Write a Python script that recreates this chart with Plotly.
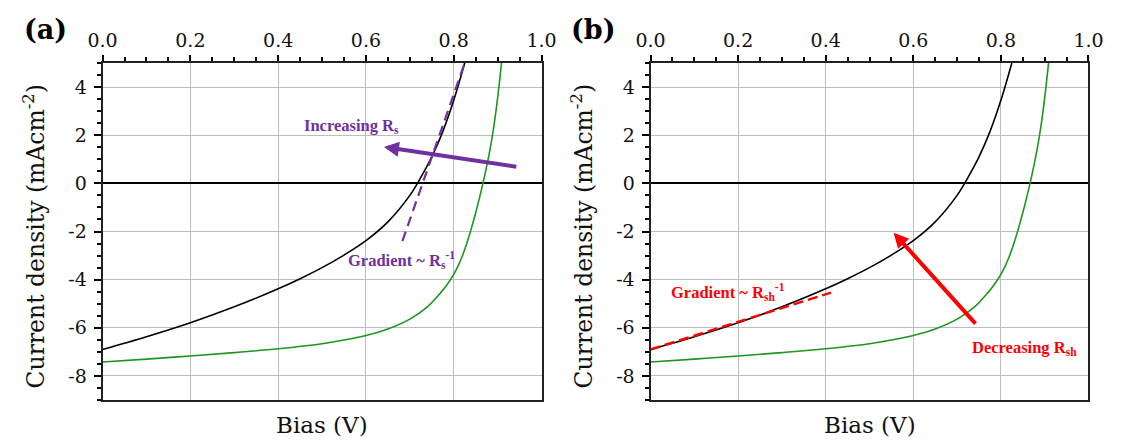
import plotly.graph_objects as go

# ---------------- data ----------------
bias_black = [0.0, 0.1, 0.2, 0.3, 0.4, 0.45, 0.5, 0.55, 0.6, 0.65, 0.7, 0.725, 0.75, 0.775, 0.8, 0.825]
j_black = [-6.9, -6.37, -5.79, -5.13, -4.38, -3.96, -3.5, -2.98, -2.38, -1.6, -0.5, 0.25, 1.1, 2.15, 3.45, 5.0]

bias_green = [0.0, 0.1, 0.2, 0.3, 0.4, 0.5, 0.55, 0.6, 0.65, 0.7, 0.74, 0.77, 0.785, 0.8, 0.81,
              0.82, 0.83, 0.84, 0.85, 0.86, 0.87, 0.88, 0.89, 0.9, 0.91]
j_green = [-7.42, -7.3, -7.17, -7.03, -6.87, -6.66, -6.51, -6.32, -6.05, -5.64, -5.13, -4.55, -4.2, -3.78, -3.43,
           -3.0, -2.48, -1.88, -1.22, -0.5, 0.28, 1.15, 2.2, 3.55, 5.2]

x_tick_vals = [0.0, 0.2, 0.4, 0.6, 0.8, 1.0]
x_tick_text = ["0.0", "0.2", "0.4", "0.6", "0.8", "1.0"]
y_tick_vals = [-8, -6, -4, -2, 0, 2, 4]
y_tick_text = ["-8", "-6", "-4", "-2", "0", "2", "4"]

# panel (a) annotation geometry (data units)
rs_tangent_v = [0.683, 0.825]
rs_tangent_j = [-2.40, 5.0]
rs_arrow_tail = (0.946, 0.68)
rs_arrow_head = (0.641, 1.51)
rs_label_pos = (0.567, 2.38)
rs_grad_label_pos = (0.682, -3.2)

# panel (b) annotation geometry (data units)
rsh_tangent_v = [0.0, 0.412]
rsh_tangent_j = [-6.9, -4.54]
rsh_arrow_tail = (0.745, -5.89)
rsh_arrow_head = (0.555, -2.05)
rsh_label_pos = (0.853, -6.83)
rsh_grad_label_pos = (0.178, -4.5)

# ---------------- style ----------------
W, H = 1121, 441
PURPLE = "#7030a0"
RED = "#ff0000"
GREEN = "#1e951e"
AXFONT = "DejaVu Serif"
ANFONT = "Liberation Serif"

a_dom = [90 / W, 541 / W]
b_dom = [653 / W, 1103 / W]
y_dom = [1 - 400 / H, 1 - 63 / H]

fig = go.Figure()

for xa, ya in (("x", "y"), ("x2", "y2")):
    fig.add_trace(go.Scatter(x=bias_black, y=j_black, mode="lines", xaxis=xa, yaxis=ya,
                             line=dict(color="black", width=1.6, shape="spline", smoothing=1.0),
                             showlegend=False, hoverinfo="skip"))
    fig.add_trace(go.Scatter(x=bias_green, y=j_green, mode="lines", xaxis=xa, yaxis=ya,
                             line=dict(color=GREEN, width=1.6, shape="spline", smoothing=1.0),
                             showlegend=False, hoverinfo="skip"))

fig.add_trace(go.Scatter(x=rs_tangent_v, y=rs_tangent_j, mode="lines", xaxis="x", yaxis="y",
                         line=dict(color=PURPLE, width=2.2, dash="10px,6px"),
                         showlegend=False, hoverinfo="skip"))
fig.add_trace(go.Scatter(x=rsh_tangent_v, y=rsh_tangent_j, mode="lines", xaxis="x2", yaxis="y2",
                         line=dict(color=RED, width=2.5, dash="10px,5px"),
                         showlegend=False, hoverinfo="skip"))

xaxis_common = dict(
    range=[0, 1], side="top", tickmode="array", tickvals=x_tick_vals, ticktext=x_tick_text,
    ticks="outside", ticklen=6, tickwidth=1.5, tickcolor="black",
    minor=dict(tickmode="linear", tick0=0, dtick=0.05, ticks="outside", ticklen=4,
               tickwidth=1.5, tickcolor="black", showgrid=False),
    showgrid=True, gridcolor="#bdbdbd", gridwidth=1, zeroline=False,
    showline=True, linecolor="#222", linewidth=2, mirror=True,
    tickfont=dict(family=AXFONT, size=19, color="#111"), ticklabelstandoff=0,
    fixedrange=True,
)
yaxis_common = dict(
    range=[-9, 5], tickmode="array", tickvals=y_tick_vals, ticktext=y_tick_text,
    ticks="outside", ticklen=7, tickwidth=1.5, tickcolor="black",
    minor=dict(tickmode="linear", tick0=0, dtick=0.5, ticks="outside", ticklen=4,
               tickwidth=1.5, tickcolor="black", showgrid=False),
    showgrid=True, gridcolor="#bdbdbd", gridwidth=1,
    zeroline=True, zerolinecolor="black", zerolinewidth=1.5,
    showline=True, linecolor="#222", linewidth=2, mirror=True,
    tickfont=dict(family=AXFONT, size=19, color="#111"), ticklabelstandoff=3,
    fixedrange=True,
)

fig.update_layout(
    width=W, height=H, margin=dict(l=0, r=0, t=0, b=0),
    paper_bgcolor="white", plot_bgcolor="white",
    xaxis=dict(domain=a_dom, anchor="y", **xaxis_common),
    yaxis=dict(domain=y_dom, anchor="x", **yaxis_common),
    xaxis2=dict(domain=b_dom, anchor="y2", **xaxis_common),
    yaxis2=dict(domain=y_dom, anchor="x2", **yaxis_common),
)

ann = []
# panel labels & axis titles
for lab, px, xd, ytx in (("(a)", 31, "x", 20), ("(b)", 594, "x2", 583)):
    ann.append(dict(text="<b>%s</b>" % lab, xref="paper", yref="paper", x=px / W, y=1 - 30 / H,
                    showarrow=False, xanchor="center", yanchor="middle",
                    font=dict(family=AXFONT, size=27, color="black")))
    ann.append(dict(text="Current density (mAcm<sup>-2</sup>)", textangle=-90,
                    xref="paper", yref="paper", x=ytx / W, y=1 - 236 / H,
                    showarrow=False, xanchor="center", yanchor="middle",
                    font=dict(family=AXFONT, size=23.5, color="#111")))
    ann.append(dict(text="Bias (V)", xref=xd + " domain", yref="paper", x=0.5, y=1 - 425 / H,
                    showarrow=False, xanchor="center", yanchor="middle",
                    font=dict(family=AXFONT, size=23, color="#111")))

# panel (a) annotations
ann.append(dict(x=rs_arrow_head[0], y=rs_arrow_head[1], ax=rs_arrow_tail[0], ay=rs_arrow_tail[1],
                xref="x", yref="y", axref="x", ayref="y", text="", showarrow=True,
                arrowhead=2, arrowsize=0.75, arrowwidth=4, arrowcolor=PURPLE))
ann.append(dict(x=rs_label_pos[0], y=rs_label_pos[1], xref="x", yref="y", showarrow=False,
                text="<b>Increasing R<sub>s</sub></b>",
                font=dict(family=ANFONT, size=16.5, color=PURPLE)))
ann.append(dict(x=rs_grad_label_pos[0], y=rs_grad_label_pos[1], xref="x", yref="y", showarrow=False,
                text="<b>Gradient ~ R<sub>s</sub><sup>-1</sup></b>",
                font=dict(family=ANFONT, size=16.5, color=PURPLE)))

# panel (b) annotations
ann.append(dict(x=rsh_arrow_head[0], y=rsh_arrow_head[1], ax=rsh_arrow_tail[0], ay=rsh_arrow_tail[1],
                xref="x2", yref="y2", axref="x2", ayref="y2", text="", showarrow=True,
                arrowhead=2, arrowsize=0.75, arrowwidth=4, arrowcolor=RED))
ann.append(dict(x=rsh_label_pos[0], y=rsh_label_pos[1], xref="x2", yref="y2", showarrow=False,
                text="<b>Decreasing R<sub>sh</sub></b>",
                font=dict(family=ANFONT, size=16.5, color=RED)))
ann.append(dict(x=rsh_grad_label_pos[0], y=rsh_grad_label_pos[1], xref="x2", yref="y2", showarrow=False,
                text="<b>Gradient ~ R<sub>sh</sub><sup>-1</sup></b>",
                font=dict(family=ANFONT, size=16.5, color=RED)))

fig.update_layout(annotations=ann)
fig.write_html("out.html")
